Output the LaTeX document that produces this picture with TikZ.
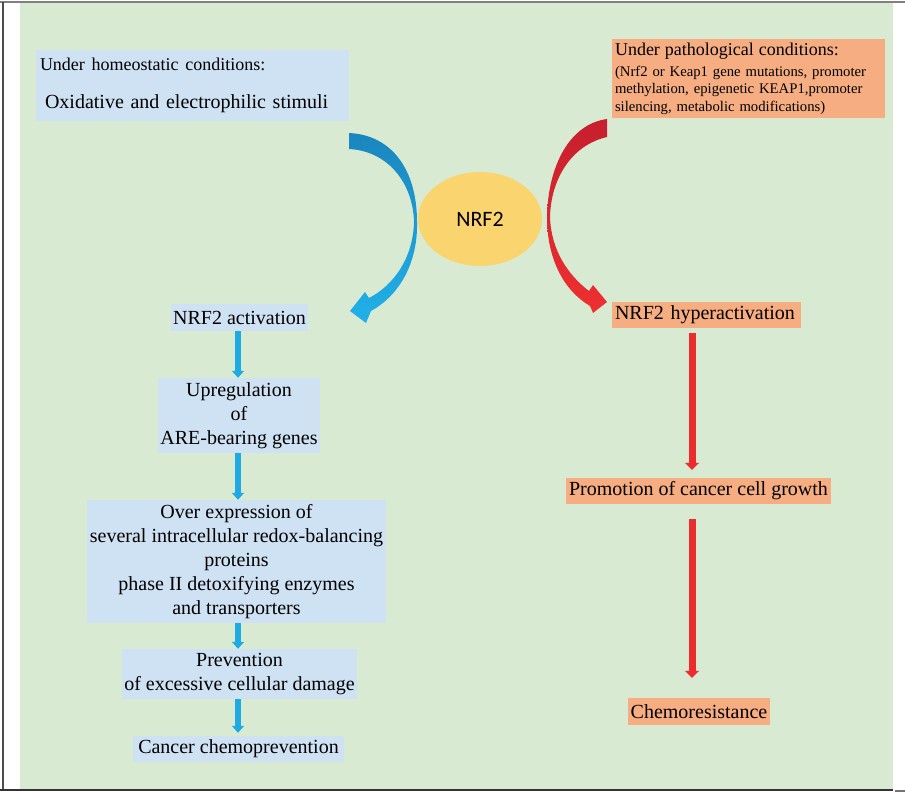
\documentclass[tikz,border=0pt]{standalone}
\usepackage{fontspec}
\setmainfont{Liberation Serif}
\newfontfamily\nrffont{Carlito}
\usetikzlibrary{arrows.meta,shapes.geometric}
\definecolor{bggreen}{RGB}{217,234,211}
\definecolor{boxblue}{RGB}{207,226,243}
\definecolor{boxorange}{RGB}{245,173,129}
\definecolor{nrfyellow}{RGB}{250,212,110}
\definecolor{arrowblue}{RGB}{30,170,226}
\definecolor{arrowred}{RGB}{236,43,47}
\definecolor{bluetop}{RGB}{27,134,190}
\definecolor{bluebot}{RGB}{33,176,232}
\definecolor{redtop}{RGB}{198,31,46}
\definecolor{redbot}{RGB}{238,48,48}
\begin{document}
\begin{tikzpicture}[x=1pt,y=-1pt,
    every node/.style={font=\fontsize{20}{24}\selectfont,inner sep=0pt},
    bluebox/.style={fill=boxblue,align=center},
    orangebox/.style={fill=boxorange,align=center},
    bluearrow/.style={draw=arrowblue,line width=6pt,-{Triangle[length=7pt,width=12pt]}},
    redarrow/.style={draw=arrowred,line width=7pt,-{Triangle[length=7pt,width=14pt]}}]
    \useasboundingbox (0,0) rectangle (905,793);
    % frame and background
    \fill[bggreen] (20,3) rectangle (893,789);
    \draw[black!50,line width=1.2pt] (0,2) -- (905,2);
    \draw[black!70,line width=2pt] (3,2) -- (3,790);
    \draw[black!80,line width=2pt] (0,790) -- (893,790);
    \draw[black!55,line width=2pt] (895,791) -- (905,791);
    % top boxes and NRF2
    \node[bluebox,align=left,text width=305pt,inner xsep=4pt,minimum height=71pt] (homeo) at (192.5,85.5)
        {{\fontsize{18}{20}\selectfont Under homeostatic conditions:}\\[14pt]\hspace*{5pt}Oxidative and electrophilic stimuli};
    \node[orangebox,align=left,text width=267pt,inner xsep=3pt,minimum height=79pt,font=\fontsize{14.7}{17.5}\selectfont] (patho) at (748.5,78.5)
        {{\fontsize{18}{20}\selectfont Under pathological conditions:}\\[3.5pt](Nrf2 or Keap1 gene mutations, promoter\\methylation, epigenetic KEAP1,promoter\\silencing, metabolic modifications)};
    \node[ellipse,fill=nrfyellow,minimum width=124pt,minimum height=94pt,font=\nrffont\fontsize{22}{26}\selectfont] (nrf) at (480,219) {NRF2};
    % curved arrows
    \shade[top color=bluetop,bottom color=bluebot] (349,133) .. controls (392,135) and (417,170) .. (417,222)
        .. controls (418,262) and (400,295) .. (371,311) -- (366,323) -- (350,311) -- (365,292) -- (369,298)
        .. controls (394,285) and (413,258) .. (414,222) .. controls (413,183) and (388,151) .. (349,149) -- cycle;
    \shade[top color=redtop,bottom color=redbot] (607,119) .. controls (570,124) and (548,165) .. (547,217)
        .. controls (547,258) and (563,290) .. (590,306) -- (593,313) -- (607,302) -- (593,285) -- (589,291)
        .. controls (568,275) and (551,250) .. (550,217) .. controls (551,178) and (572,145) .. (607,137) -- cycle;
    % left column
    \node[bluebox,minimum width=137pt,minimum height=27pt] (act) at (239.5,317.5) {NRF2 activation};
    \node[bluebox,minimum width=162pt,minimum height=75pt] (upreg) at (239,415.5) {Upregulation\\of\\ARE-bearing genes};
    \node[bluebox,minimum width=299pt,minimum height=123pt] (over) at (236.5,561.5)
        {Over expression of\\several intracellular redox-balancing\\proteins\\phase II detoxifying enzymes\\and transporters};
    \node[bluebox,minimum width=235pt,minimum height=50pt] (prev) at (239.5,674) {Prevention\\of excessive cellular damage};
    \node[bluebox,minimum width=211pt,minimum height=26pt] (chemoprev) at (238.5,749) {Cancer chemoprevention};
    % right column
    \node[orangebox,align=left,text width=183pt,inner xsep=3pt,minimum height=26pt] (hyper) at (706.5,314.5) {NRF2 hyperactivation};
    \node[orangebox,minimum width=265pt,minimum height=26pt] (promo) at (698.5,491) {Promotion of cancer cell growth};
    \node[orangebox,minimum width=142pt,minimum height=27pt] (chemores) at (699,711.5) {Chemoresistance};
    % straight arrows
    \coordinate (bx) at (238,0);
    \coordinate (rx) at (692,0);
    \draw[bluearrow] (act.south -| bx) -- (upreg.north -| bx);
    \draw[bluearrow] (upreg.south -| bx) -- (over.north -| bx);
    \draw[bluearrow] (over.south -| bx) -- (prev.north -| bx);
    \draw[bluearrow,shorten >=3pt] (prev.south -| bx) -- (chemoprev.north -| bx);
    \draw[redarrow,shorten <=5pt,shorten >=8pt] (hyper.south -| rx) -- (promo.north -| rx);
    \draw[redarrow,shorten <=15pt,shorten >=20pt] (promo.south -| rx) -- (chemores.north -| rx);
\end{tikzpicture}
\end{document}
